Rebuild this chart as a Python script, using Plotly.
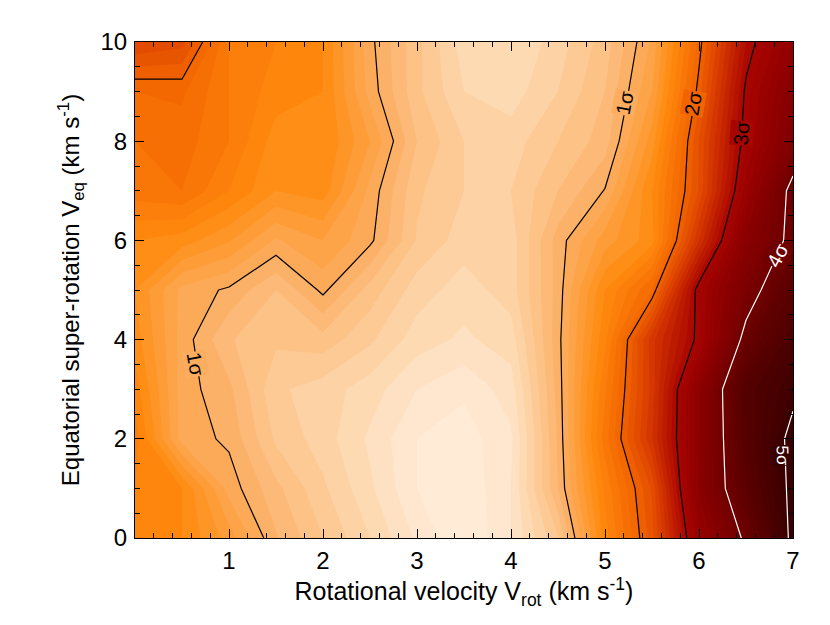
import plotly.graph_objects as go

# grid of the fit: rotational velocity (x) and equatorial super-rotation (y)
vrot = [0, 0.5, 1, 1.5, 2, 2.5, 3, 3.5, 4, 4.5, 5, 5.5, 6, 6.5, 7]
veq = [0, 1, 2, 3, 4, 5, 6, 7, 8, 9, 10]

# significance (sigma) of the misfit, one list per Veq row
sig_veq0 = [1.55, 1.5, 1.25, 0.912, 0.7, 0.5, 0.28, 0.1, 0.3, 0.691, 1.55, 2.158, 3.296, 4.078, 5.102]
sig_veq1 = [1.6, 1.5, 1.06, 0.829, 0.62, 0.42, 0.2, 0.12, 0.3, 0.899, 1.62, 2.214, 3.524, 4.374, 5.102]
sig_veq2 = [1.65, 1.057, 0.978, 0.68, 0.55, 0.38, 0.2, 0.15, 0.28, 0.917, 1.75, 2.49, 3.471, 4.488, 5.112]
sig_veq3 = [1.55, 1.05, 0.925, 0.62, 0.55, 0.45, 0.3, 0.22, 0.35, 0.941, 1.68, 2.44, 3.477, 4.523, 4.91]
sig_veq4 = [1.45, 1.06, 0.81, 0.72, 0.76, 0.62, 0.45, 0.38, 0.45, 0.963, 1.575, 2.46, 3.06, 4.128, 4.7]
sig_veq5 = [1.4, 1.07, 0.98, 0.8, 1.027, 0.757, 0.55, 0.45, 0.55, 0.944, 1.5, 1.905, 3.095, 3.8, 4.425]
sig_veq6 = [1.5, 1.45, 1.313, 1.086, 1.2, 1.027, 0.69, 0.55, 0.55, 0.945, 1.25, 1.458, 2.5, 3.54, 4.115]
sig_veq7 = [1.75, 1.8, 1.6, 1.4, 1.45, 1.07, 0.72, 0.6, 0.6, 0.8, 1.008, 1.5, 2.214, 3.248, 4.122]
sig_veq8 = [1.8, 1.85, 1.7, 1.45, 1.5, 1.2, 0.8, 0.6, 0.55, 0.7, 0.85, 1.35, 2.205, 3.088, 3.715]
sig_veq9 = [1.9, 1.92, 1.7, 1.55, 1.5, 1.06, 0.727, 0.5, 0.45, 0.6, 0.8, 1.2, 2.051, 3.04, 3.6]
sig_veq10 = [2.3, 2.24, 1.695, 1.6, 1.5, 1.03, 0.73, 0.45, 0.4, 0.55, 0.75, 1.118, 1.943, 2.9, 3.4]

z = [sig_veq0, sig_veq1, sig_veq2, sig_veq3, sig_veq4, sig_veq5,
     sig_veq6, sig_veq7, sig_veq8, sig_veq9, sig_veq10]

xticks = [1, 2, 3, 4, 5, 6, 7]
yticks = [0, 2, 4, 6, 8, 10]

# colour table (sigma -> rgb), reversed red temperature look
cs_sigma = [0.0, 0.3, 0.6, 1.0, 1.5, 2.0, 2.5, 3.0, 3.5, 4.0, 4.5, 5.0, 5.5]
cs_rgb = [(255, 241, 226), (254, 229, 202), (253, 206, 156), (252, 173, 96),
          (255, 138, 15), (242, 100, 0), (210, 50, 0), (168, 5, 0),
          (140, 0, 0), (112, 0, 0), (85, 0, 0), (58, 0, 0), (30, 0, 0)]
zmax = cs_sigma[-1]
colorscale = [[s / zmax, "rgb(%d,%d,%d)" % c] for s, c in zip(cs_sigma, cs_rgb)]


def color_at(s):
    for i in range(len(cs_sigma) - 1):
        if cs_sigma[i] <= s <= cs_sigma[i + 1]:
            f = (s - cs_sigma[i]) / (cs_sigma[i + 1] - cs_sigma[i])
            c = [round(a + f * (b - a)) for a, b in zip(cs_rgb[i], cs_rgb[i + 1])]
            return "rgb(%d,%d,%d)" % tuple(c)
    return "rgb(%d,%d,%d)" % cs_rgb[-1]


FONT = "Liberation Sans"

fig = go.Figure()

fig.add_trace(go.Contour(
    x=vrot, y=veq, z=z, zmin=0, zmax=zmax, colorscale=colorscale,
    autocontour=False, contours=dict(start=0, end=zmax, size=0.1, coloring="fill"),
    line=dict(width=0, smoothing=0), showscale=False, hoverinfo="skip"))

fig.add_trace(go.Contour(
    x=vrot, y=veq, z=z, autocontour=False,
    contours=dict(start=1, end=3, size=1, coloring="none"),
    line=dict(color="black", width=1.2, smoothing=0), showscale=False, hoverinfo="skip"))

fig.add_trace(go.Contour(
    x=vrot, y=veq, z=z, autocontour=False,
    contours=dict(start=4, end=5, size=1, coloring="none"),
    line=dict(color="white", width=1.2, smoothing=0), showscale=False, hoverinfo="skip"))

# contour labels
labels = [
    (0.64, 3.5, "1σ", 80, 1.0, "black", 20),
    (5.21, 8.77, "1σ", -79, 1.0, "black", 20),
    (5.94, 8.77, "2σ", -80, 2.0, "black", 20),
    (6.45, 8.17, "3σ", -85, 3.0, "black", 20),
    (6.84, 5.7, "4σ", -62, 4.0, "white", 20),
    (6.89, 1.67, "5σ", 88, 5.05, "white", 17),
]
for lx, ly, txt, ang, lev, col, fs in labels:
    fig.add_annotation(x=lx, y=ly, text=txt, showarrow=False, textangle=ang,
                       font=dict(size=fs, color=col, family=FONT),
                       bgcolor=color_at(lev), borderpad=0)

axis_style = dict(
    ticks="inside", ticklen=9, tickwidth=1, tickcolor="black",
    showline=True, linecolor="black", linewidth=1, mirror="allticks",
    showgrid=False, zeroline=False,
    tickfont=dict(size=24, color="black", family=FONT),
)

fig.update_xaxes(
    range=[0, 7], tickmode="array", tickvals=xticks, ticklabelstandoff=1,
    minor=dict(ticks="inside", ticklen=5, tickcolor="black", tickmode="linear", tick0=0, dtick=0.2),
    title=dict(text="Rotational velocity V<sub>rot</sub> (km s<sup>-1</sup>)",
               font=dict(size=25, color="black", family=FONT), standoff=6),
    **axis_style)
fig.update_yaxes(
    range=[0, 10], tickmode="array", tickvals=yticks, ticklabelstandoff=2,
    minor=dict(ticks="inside", ticklen=5, tickcolor="black", tickmode="linear", tick0=0, dtick=0.5),
    title=dict(text="Equatorial super-rotation V<sub>eq</sub> (km s<sup>-1</sup>)",
               font=dict(size=24, color="black", family=FONT), standoff=14),
    **axis_style)

# the page body adds an 8 px offset, margins compensate for it
fig.update_layout(
    width=830, height=625,
    margin=dict(l=127, r=45, t=34, b=95),
    paper_bgcolor="white", plot_bgcolor="white",
    showlegend=False,
)

fig.write_html("out.html")
